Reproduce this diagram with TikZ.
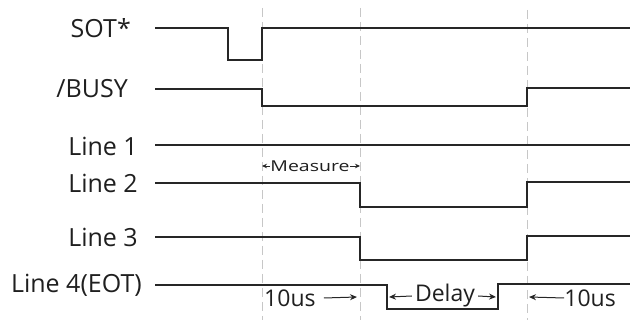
\documentclass[tikz,border=0pt]{standalone}
\usepackage{fontspec}
\setmainfont{Open Sans}
\usetikzlibrary{arrows.meta}

\begin{document}
\begin{tikzpicture}[x=1pt, y=-1pt,
    sig/.style={draw=black!85, line width=1.5pt},
    guide/.style={draw=black!22, line width=1pt, dash pattern=on 9pt off 5pt},
    lbl/.style={anchor=east, inner sep=0pt, text=black!88,
                font=\fontsize{25}{28}\selectfont},
    note/.style={inner sep=0pt, text=black!88,
                 font=\fontsize{23}{26}\selectfont},
    tiny/.style={inner sep=0pt, text=black!88, xscale=1.3,
                 font=\fontsize{15}{17}\selectfont},
    tick/.style={draw=black!85, line width=1pt, -{Stealth[length=7pt, width=6pt]}},
    stick/.style={draw=black!85, line width=0.8pt, -{Stealth[length=5pt, width=4.5pt]}},
]
\useasboundingbox (0,0) rectangle (630,320);

% Zeitmarken
\draw[guide] (262,8) -- (262,320);
\draw[guide] (360,8) -- (360,320);
\draw[guide] (527,10) -- (527,320);

% Signalnamen
\node[lbl] (sot)   at (131,28)  {SOT*};
\node[lbl] (busy)  at (128,89)  {/BUSY};
\node[lbl] (lone)  at (138,146) {Line 1};
\node[lbl] (ltwo)  at (138,183) {Line 2};
\node[lbl] (lthr)  at (138,237) {Line 3};
\node[lbl] (lfour) at (142,285) {Line 4(EOT)};

% Verlaeufe
\draw[sig] (155,28) -- (228,28) -- (228,60) -- (262,60) -- (262,28) -- (630,28);
\draw[sig] (155,89) -- (262,89) -- (262,106) -- (527,106) -- (527,88) -- (630,88);
\draw[sig] (155,145) -- (630,145);
\draw[sig] (155,183) -- (360,183) -- (360,207) -- (527,207) -- (527,182) -- (630,182);
\draw[sig] (155,237) -- (360,237) -- (360,260) -- (527,260) -- (527,236) -- (630,236);
\draw[sig] (155,285) -- (387,285) -- (387,309) -- (498,309) -- (498,284) -- (630,284);

% Messzeit
\coordinate (ma) at (262,166);
\coordinate (mb) at (360,166);
\node[tiny] (meas) at (310,166) {Measure};
\draw[stick] (meas.west) -- (ma);
\draw[stick] (meas.east) -- (mb);

% Verzoegerungen
\coordinate (da) at (357,297);
\coordinate (db) at (389,297);
\coordinate (dc) at (496,297);
\coordinate (dd) at (529,297);
\node[note, anchor=west] (tena) at (264,298) {10us};
\node[note] (delay) at (445,296) {Delay};
\node[note, anchor=east] (tenb) at (616,298) {10us};
\draw[tick] ([xshift=8pt]tena.east) -- (da);
\draw[tick] ([xshift=-3pt]delay.west) -- (db);
\draw[tick] ([xshift=3pt]delay.east) -- (dc);
\draw[tick] (tenb.west) -- (dd);

\end{tikzpicture}
\end{document}
